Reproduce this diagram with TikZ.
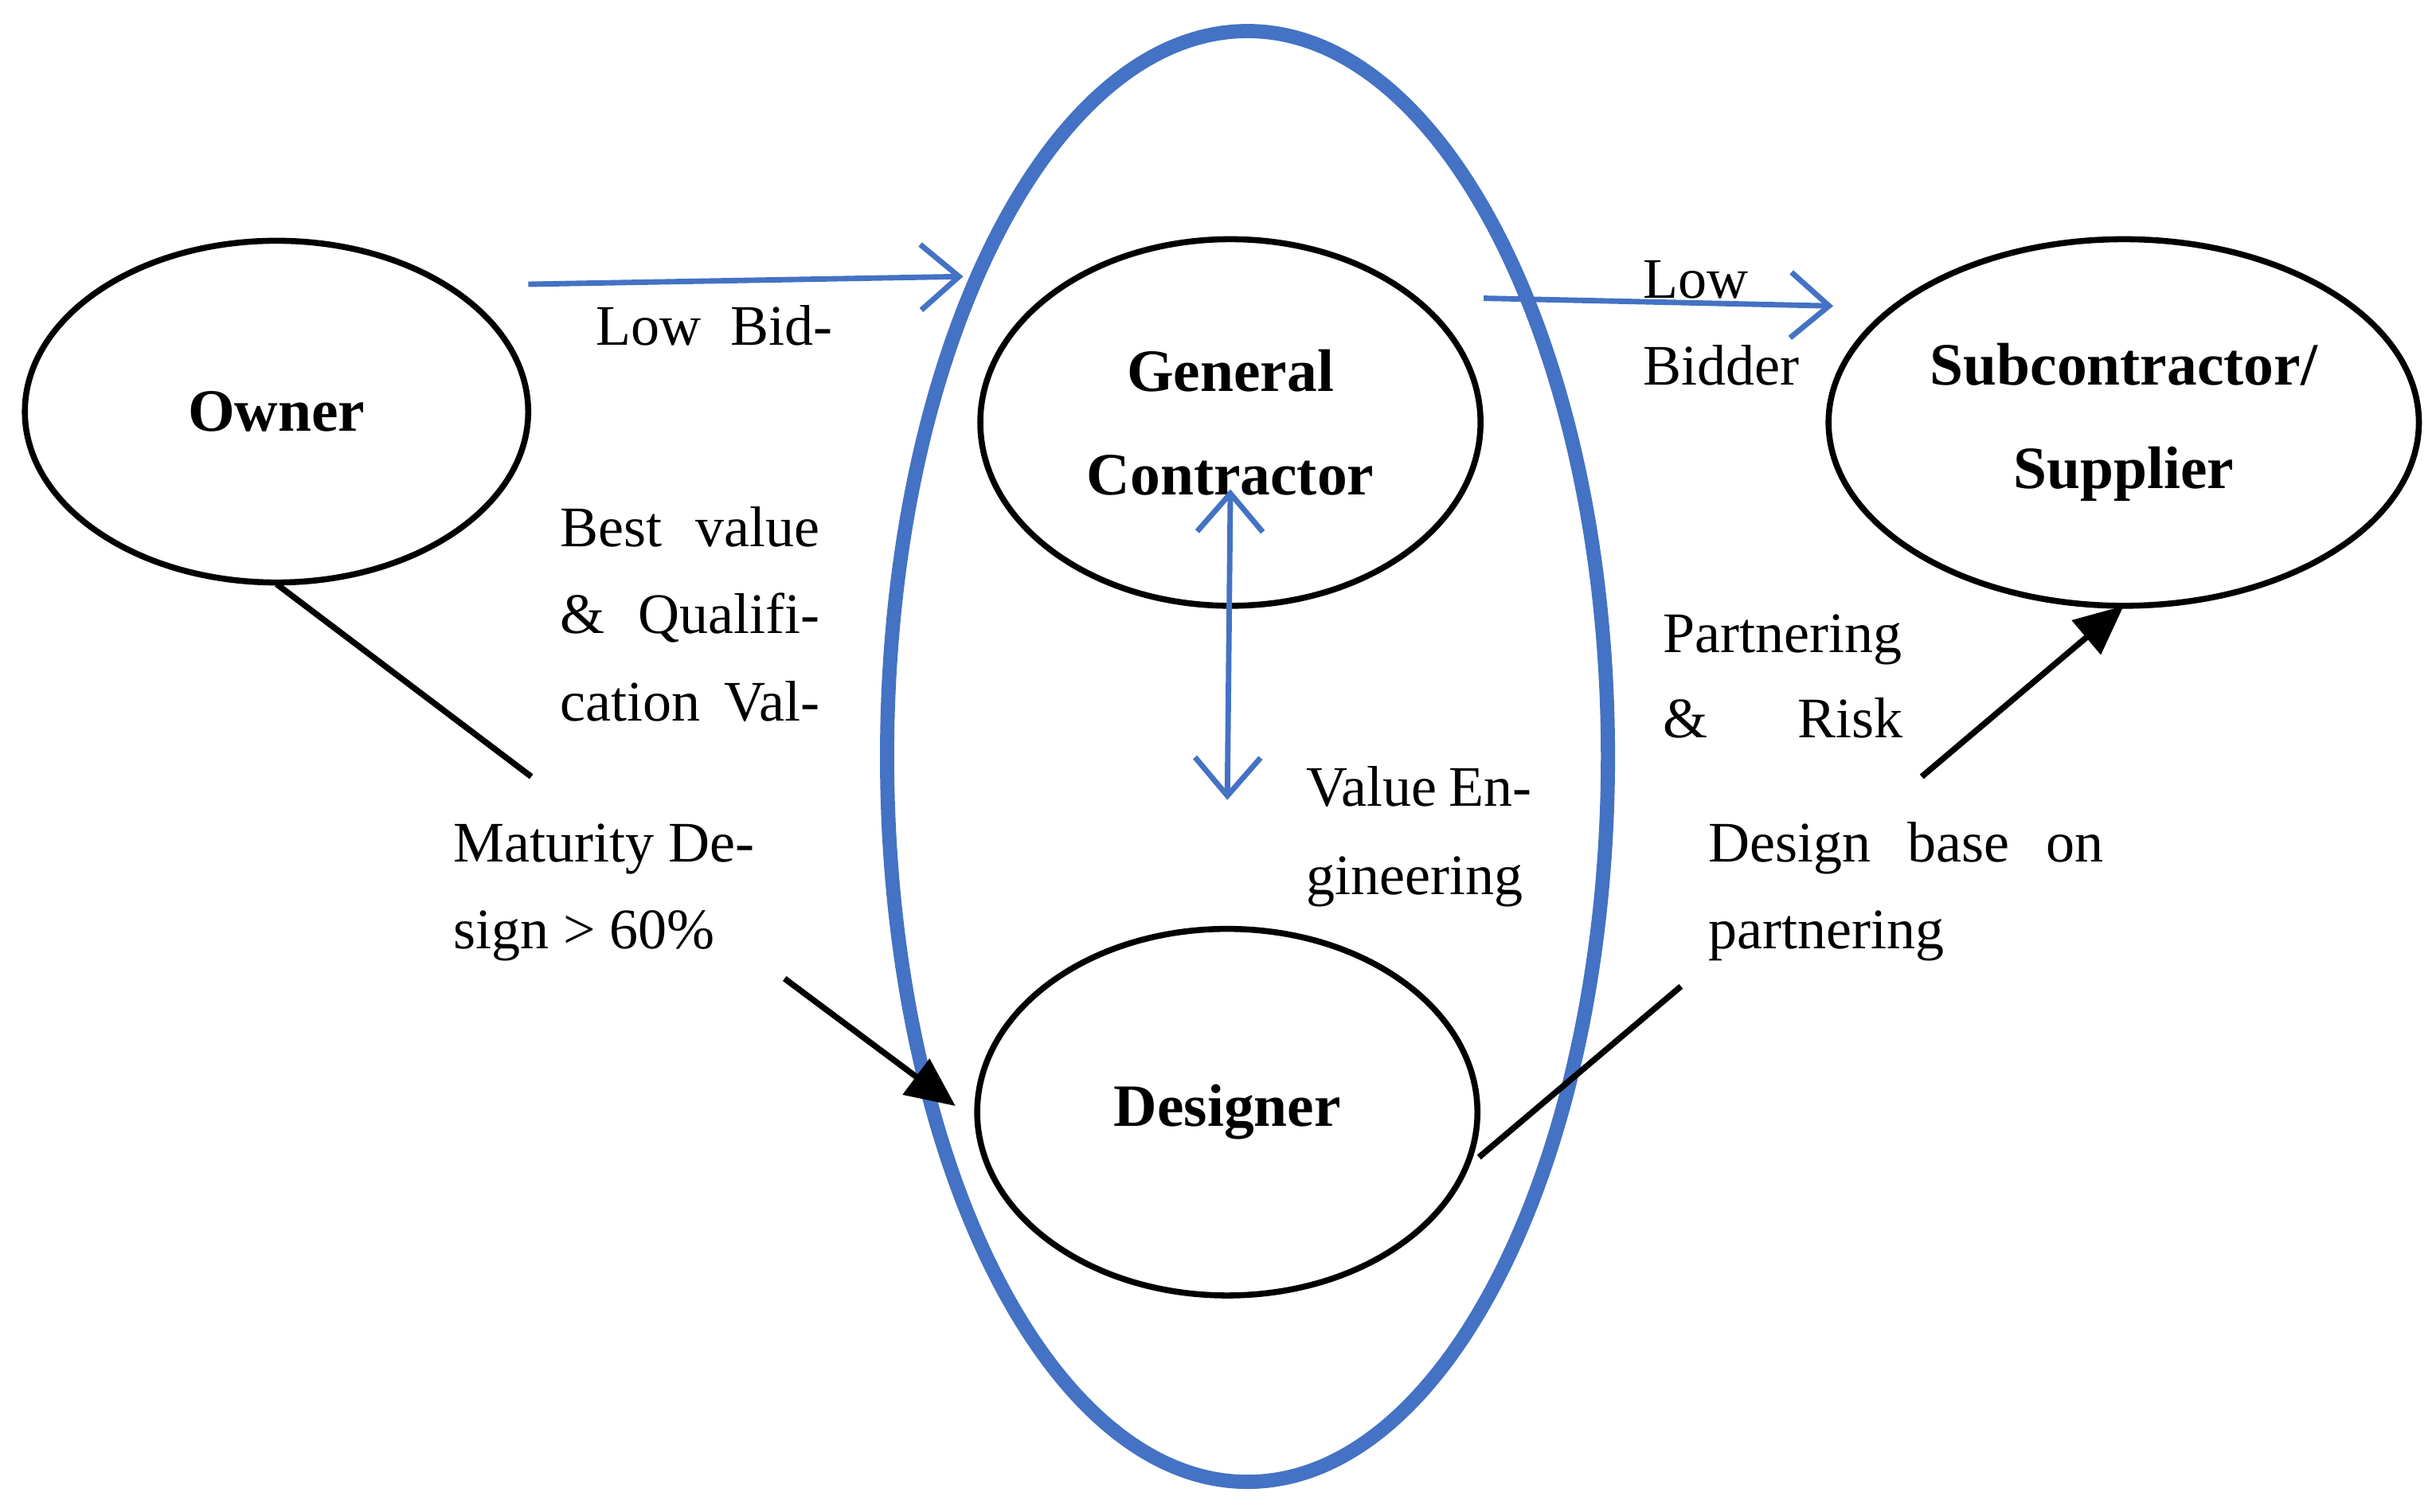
\documentclass[tikz,border=0pt]{standalone}
\usepackage{fontspec}
\setmainfont{Liberation Serif}
\usetikzlibrary{arrows.meta}
\begin{document}
\begin{tikzpicture}[x=0.01cm,y=-0.01cm,
  blu/.style={draw=bl,line width=1pt,-{Straight Barb[length=7pt,width=12pt]}},
  blk/.style={line width=1.1pt,-{Triangle[length=9pt,width=8pt]}},
  lab/.style={font=\fontsize{11}{13}\selectfont\bfseries,align=center},
  txt/.style={anchor=base west,inner sep=0,font=\fontsize{10.5}{12}\selectfont}]
\definecolor{bl}{RGB}{68,114,196}
\useasboundingbox (0,0) rectangle (1568,973);
\draw[bl,line width=2.6pt] (803,487) ellipse [x radius=232,y radius=467];
\draw[line width=1.1pt] (178,265) ellipse [x radius=162,y radius=110];
\node[lab] (owner) at (178,265) {Owner};
\draw[line width=1.1pt] (792,272) ellipse [x radius=161,y radius=118];
\node[lab] (gc) at (792,272) {General\\[6pt]Contractor};
\draw[line width=1.1pt] (1367,272) ellipse [x radius=190,y radius=118];
\node[lab] (sub) at (1367,272) {Subcontractor/\\[6pt]Supplier};
\draw[line width=1.1pt] (790,716) ellipse [x radius=161,y radius=118];
\node[lab] (des) at (790,716) {Designer};
\coordinate (a1) at (340,183); \coordinate (a2) at (620,178);
\coordinate (b1) at (955,192); \coordinate (b2) at (1180,197);
\coordinate (c1) at (792,315); \coordinate (c2) at (790,515);
\coordinate (o1) at (178,376); \coordinate (o2) at (342,500);
\coordinate (d1) at (505,630); \coordinate (d2) at (615,712);
\coordinate (e1) at (952,745); \coordinate (e2) at (1082,635);
\coordinate (f1) at (1237,500); \coordinate (f2) at (1367,390);
\draw[blu] (a1) -- (a2);
\draw[blu] (b1) -- (b2);
\draw[blu,{Straight Barb[length=7pt,width=12pt]}-{Straight Barb[length=7pt,width=12pt]}] (c1) -- (c2);
\draw[line width=1.1pt] (o1) -- (o2);
\draw[blk] (d1) -- (d2);
\draw[line width=1.1pt] (e1) -- (e2);
\draw[blk] (f1) -- (f2);
\node[txt] (t1) at (383,222) {\makebox[1.52cm][s]{Low\hfill Bid-}};
\node[txt] (t2) at (360,352) {\makebox[1.67cm][s]{Best\hfill value}};
\node[txt] (t3) at (360,408) {\makebox[1.67cm][s]{\&\hfill Qualifi-}};
\node[txt] (t4) at (360,464) {\makebox[1.67cm][s]{cation\hfill Val-}};
\node[txt] (t5) at (291,555) {\makebox[1.94cm][s]{Maturity\hfill De-}};
\node[txt] (t6) at (291,611) {sign > 60\%};
\node[txt] (t7) at (840,519) {\makebox[1.45cm][s]{Value\hfill En-}};
\node[txt] (t8) at (840,576) {gineering};
\node[txt] (t9) at (1057,192) {Low};
\node[txt] (t10) at (1057,248) {Bidder};
\node[txt] (t11) at (1070,420) {Partnering};
\node[txt] (t12) at (1070,475) {\makebox[1.54cm][s]{\&\hfill Risk}};
\node[txt] (t13) at (1099,555) {\makebox[2.54cm][s]{Design\hfill base\hfill on}};
\node[txt] (t14) at (1099,611) {partnering};
\end{tikzpicture}
\end{document}
